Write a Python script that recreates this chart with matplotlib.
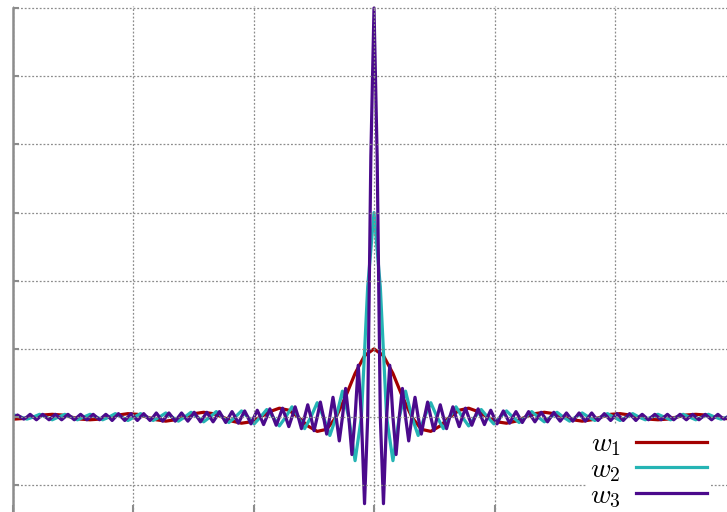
import numpy as np
import matplotlib
matplotlib.use("Agg")
import matplotlib.pyplot as plt

plt.rcParams["mathtext.fontset"] = "cm"

red_y = [-0.02, -0.03, -0.02, 0, 0.03, 0.04, 0.03, 0, -0.03, -0.04, -0.03, 0,
         0.03, 0.05, 0.04, 0, -0.04, -0.06, -0.04, 0, 0.05, 0.07, 0.05, 0,
         -0.06, -0.09, -0.07, 0, 0.08, 0.13, 0.10, 0, -0.13, -0.21, -0.18, 0,
         0.30, 0.64, 0.90,
         1.00,
         0.90, 0.64, 0.30, 0, -0.18, -0.21, -0.13, 0, 0.10, 0.13, 0.08, 0,
         -0.07, -0.09, -0.06, 0, 0.05, 0.07, 0.05, 0, -0.04, -0.06, -0.04, 0,
         0.04, 0.05, 0.03, 0, -0.03, -0.04, -0.03, 0, 0.03, 0.04, 0.03, 0,
         -0.02, -0.03, -0.02]
red_x = np.linspace(-3.063, 3.063, 79)

teal_y = [0, 0.03, 0, -0.03, 0, 0.04, 0, -0.04, 0, 0.04, 0, -0.04, 0, 0.04, 0,
          -0.04, 0, 0.05, 0, -0.05, 0, 0.05, 0, -0.05, 0, 0.06, 0, -0.06, 0,
          0.07, 0, -0.07, 0, 0.08, 0, -0.08, 0, 0.09, 0, -0.10, 0, 0.11, 0,
          -0.13, 0, 0.15, 0, -0.17, 0, 0.21, 0, -0.27, 0, 0.38, 0, -0.64, 0,
          1.91,
          3.00,
          1.91,
          0, -0.64, 0, 0.38, 0, -0.27, 0, 0.21, 0, -0.17, 0, 0.15, 0, -0.13,
          0, 0.11, 0, -0.10, 0, 0.09, 0, -0.08, 0, 0.08, 0, -0.07, 0, 0.07,
          0, -0.06, 0, 0.06, 0, -0.05, 0, 0.05, 0, -0.05, 0, 0.05, 0, -0.04,
          0, 0.04, 0, -0.04, 0, 0.04, 0, -0.04, 0, 0.04, 0, -0.03, 0, 0.03, 0]
teal_x = np.linspace(-3.037, 3.037, 117)

purple_y = [-0.03, 0, 0.03, 0, -0.03, 0, 0.04, 0, -0.04, 0, 0.04, 0,
            -0.04, 0, 0.04, 0, -0.04, 0, 0.04, 0, -0.04, 0, 0.04, 0,
            -0.04, 0, 0.04, 0, -0.04, 0, 0.04, 0, -0.05, 0, 0.05, 0,
            -0.05, 0, 0.05, 0, -0.05, 0, 0.05, 0, -0.05, 0, 0.06, 0,
            -0.06, 0, 0.06, 0, -0.06, 0, 0.06, 0, -0.06, 0, 0.07, 0,
            -0.07, 0, 0.07, 0, -0.07, 0, 0.08, 0, -0.08, 0, 0.08, 0,
            -0.09, 0, 0.09, 0, -0.10, 0, 0.10, 0, -0.11, 0, 0.12, 0,
            -0.12, 0, 0.13, 0, -0.14, 0, 0.15, 0, -0.17, 0, 0.18, 0,
            -0.20, 0, 0.22, 0, -0.25, 0, 0.29, 0, -0.35, 0, 0.42, 0,
            -0.55, 0, 0.76, 0, -1.27, 0, 3.82,
            6.00,
            3.82, 0, -1.27, 0, 0.76, 0, -0.55, 0, 0.42, 0, -0.35, 0,
            0.29, 0, -0.25, 0, 0.22, 0, -0.20, 0, 0.18, 0, -0.17, 0,
            0.15, 0, -0.14, 0, 0.13, 0, -0.12, 0, 0.12, 0, -0.11, 0,
            0.10, 0, -0.10, 0, 0.09, 0, -0.09, 0, 0.08, 0, -0.08, 0,
            0.08, 0, -0.07, 0, 0.07, 0, -0.07, 0, 0.07, 0, -0.06, 0,
            0.06, 0, -0.06, 0, 0.06, 0, -0.06, 0, 0.06, 0, -0.05, 0,
            0.05, 0, -0.05, 0, 0.05, 0, -0.05, 0, 0.05, 0, -0.05, 0,
            0.04, 0, -0.04, 0, 0.04, 0, -0.04, 0, 0.04, 0, -0.04, 0,
            0.04, 0, -0.04, 0, 0.04, 0, -0.04, 0, 0.04, 0, -0.04, 0,
            0.04, 0, -0.03, 0, 0.03, 0, -0.03]
purple_x = np.linspace(-3.011, 3.011, 231)

labels = ["$w_1$", "$w_2$", "$w_3$"]
colors = ["#a30000", "#25b4b4", "#4b0a8c"]

fig = plt.figure(figsize=(7.27, 5.12), dpi=100)
ax = fig.add_axes([12.5 / 727, -3.9 / 512, 723 / 727, 509.9 / 512])

ax.plot(red_x, red_y, color=colors[0], lw=2.3, label=labels[0], solid_joinstyle="round")
ax.plot(teal_x, teal_y, color=colors[1], lw=2.3, label=labels[1], solid_joinstyle="round")
ax.plot(purple_x, purple_y, color=colors[2], lw=2.3, label=labels[2], solid_joinstyle="round")

ax.set_xlim(-3, 3)
ax.set_ylim(-1.45, 6.03)
ax.set_xticks(np.arange(-3, 4, 1))
ax.set_yticks(np.arange(-1, 7, 1))
ax.set_xticklabels([])
ax.set_yticklabels([])
ax.tick_params(direction="in", color="#8c8c8c", width=1.5)
ax.tick_params(axis="y", length=4.5)
ax.tick_params(axis="x", length=8)
ax.grid(True, color="#8c8c8c", linestyle=(0, (1.5, 1.5)), lw=0.9)
ax.set_axisbelow(False)

ax.spines["top"].set_visible(False)
ax.spines["right"].set_visible(False)
ax.spines["left"].set_color("#8c8c8c")
ax.spines["left"].set_linewidth(1.8)
ax.spines["left"].set_linestyle((0, (4, 1, 1, 1)))
ax.spines["bottom"].set_visible(False)

leg = ax.legend(loc="lower right", bbox_to_anchor=(0.978, -0.004),
                bbox_transform=fig.transFigure, markerfirst=False,
                fontsize=20, handlelength=2.55, handletextpad=0.55,
                labelspacing=-0.1, borderpad=0.15, borderaxespad=0,
                fancybox=False, framealpha=1, edgecolor="none")

plt.savefig("out.png", dpi=100)
